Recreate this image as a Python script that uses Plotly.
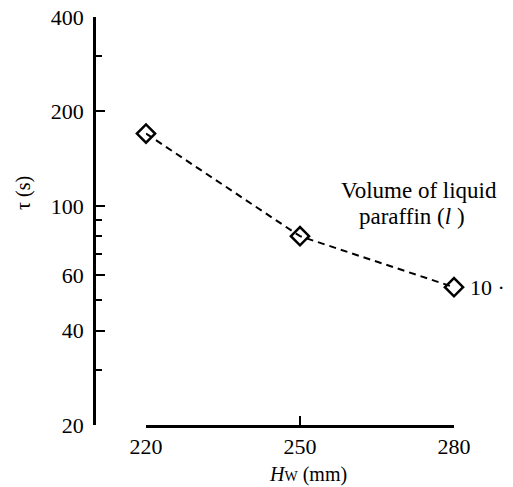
import plotly.graph_objects as go
import math

# Data
hw_mm = [220, 250, 280]
tau_s = [170, 80, 55]
series_label = "10"
legend_title_lines = ["Volume of liquid", "paraffin (<i>l</i> )"]
y_major_ticks = [20, 40, 60, 100, 200, 400]
y_minor_ticks = [30, 50, 70, 80, 90, 300]
x_ticks = [220, 250, 280]

W, H = 513, 487
ML, MR, MT, MB = 94, 0, 17, 62
pw = W - ML - MR
ph = H - MT - MB
FONT = "Liberation Serif, Times New Roman, serif"

fig = go.Figure()
fig.add_trace(go.Scatter(
    x=hw_mm, y=tau_s, mode="lines+markers",
    line=dict(color="black", width=2, dash="7px,5px"),
    marker=dict(symbol="diamond-open", size=14, color="black", line=dict(width=2.5, color="black")),
    cliponaxis=False, showlegend=False, hoverinfo="skip",
))

fig.add_annotation(x=hw_mm[-1], y=math.log10(tau_s[-1]), xref="x", yref="y",
                   text=series_label + " ·", showarrow=False, xanchor="left", xshift=14,
                   font=dict(family=FONT, size=22, color="black"))
for txt, cx, cy in zip(legend_title_lines, [419, 412], [190, 216]):
    fig.add_annotation(x=(cx - ML) / pw, y=(H - MB - cy) / ph, xref="paper", yref="paper",
                       text=txt, showarrow=False, xanchor="center", yanchor="middle",
                       font=dict(family=FONT, size=23, color="black"))
fig.add_annotation(x=(23 - ML) / pw, y=(H - MB - 193) / ph, xref="paper", yref="paper",
                   text="τ (s)", textangle=-90, showarrow=False,
                   xanchor="center", yanchor="middle",
                   font=dict(family=FONT, size=20, color="black"))
fig.add_annotation(x=(308 - ML) / pw, y=(H - MB - 474) / ph, xref="paper", yref="paper",
                   text="<i>H</i><span style='font-size:14px'>W</span> (mm)", showarrow=False,
                   xanchor="center", yanchor="middle",
                   font=dict(family=FONT, size=20, color="black"))

fig.update_layout(
    width=W, height=H,
    margin=dict(l=ML, r=MR, t=MT, b=MB, autoexpand=False),
    paper_bgcolor="white", plot_bgcolor="white",
    font=dict(family=FONT, size=22, color="black"),
    xaxis=dict(
        domain=[(146 - ML) / pw, (454 - ML) / pw],
        range=[220, 280],
        tickvals=x_ticks, ticktext=[str(v) for v in x_ticks],
        ticks="inside", ticklen=9, tickwidth=2, tickcolor="black",
        showline=True, linecolor="black", linewidth=2.5,
        showgrid=False, zeroline=False, ticklabelstandoff=0,
    ),
    yaxis=dict(
        type="log", range=[math.log10(20), math.log10(400)],
        anchor="free", position=0,
        tickvals=y_major_ticks, ticktext=[str(v) for v in y_major_ticks],
        ticks="inside", ticklen=9, tickwidth=2, tickcolor="black",
        minor=dict(tickvals=y_minor_ticks, ticks="inside", ticklen=6, tickwidth=2, tickcolor="black"),
        showline=True, linecolor="black", linewidth=2.5,
        showgrid=False, zeroline=False, ticklabelstandoff=5,
    ),
)

post = ("document.body.style.margin='0';document.body.style.overflow='hidden';"
        "var gd=document.getElementById('{plot_id}');"
        "Plotly.relayout(gd,{width:513,height:487});")
fig.write_html("out.html", post_script=post, config={"displayModeBar": False})
